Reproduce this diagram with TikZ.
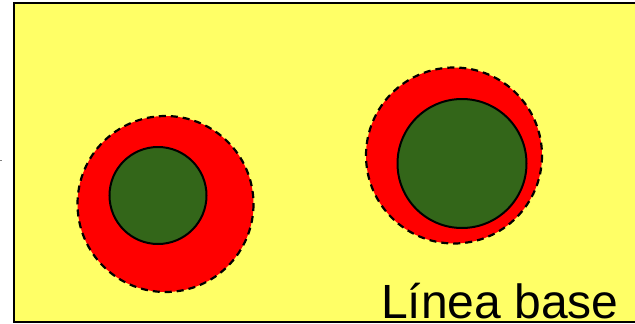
\documentclass[tikz,border=0pt]{standalone}
\usepackage{fontspec}
\setmainfont{Liberation Sans}
\definecolor{bgyellow}{HTML}{FFFF66}
\definecolor{ringred}{HTML}{FF0000}
\definecolor{coregreen}{HTML}{336619}
\begin{document}
\begin{tikzpicture}[x=1pt,y=-1pt,
  halo/.style={fill=ringred,draw=black,line width=2.2pt,dash pattern=on 7pt off 5pt},
  core/.style={fill=coregreen,draw=black,line width=2pt}]
\useasboundingbox (0,0) rectangle (635,324);
\fill[bgyellow] (14,3) rectangle (636,322);
\draw[black,line width=2pt] (636,3) -- (14,3) -- (14,322) -- (636,322);
\draw[gray,line width=1pt] (0,160) -- (2,160);
\draw[halo] (165.5,204) circle[radius=88];
\draw[core] (158,195.5) circle[radius=48.5];
\draw[halo] (454,155.5) circle[radius=88];
\draw[core] (462,163.5) circle[radius=64.5];
\node[anchor=base west,inner sep=0pt,text depth=0pt,font=\fontsize{48}{50}\selectfont] (lbl) at (381,318) {Línea base};
\end{tikzpicture}
\end{document}
